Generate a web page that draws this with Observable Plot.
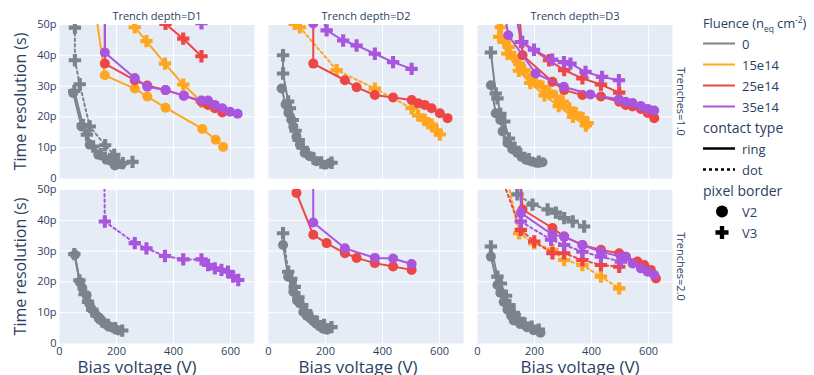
<!DOCTYPE html>
<html><head><meta charset="utf-8">
<script src="https://cdn.jsdelivr.net/npm/d3@7"></script>
<script src="https://cdn.jsdelivr.net/npm/@observablehq/plot@0.6"></script>
<style>
body{margin:0;background:#fff;font-family:"Open Sans",sans-serif;}
#wrap{position:relative;width:814px;height:375px;overflow:hidden;}
#legend{position:absolute;left:703px;top:12px;color:#2a3f5f;}
.row{height:21px;display:flex;align-items:center;white-space:nowrap;}
.ttl{font-size:14px;}
.ttl.small{font-size:13px;letter-spacing:-0.1px;}
.itm{font-size:13px;}
.itm span{margin-left:7px;}
sub,sup{font-size:8.5px;line-height:0;}
</style></head><body><div id="wrap"></div>
<script>
// ---- categories ----
const depths = ["D1", "D2", "D3"];
const trenches = ["1.0", "2.0"];
const fluences = ["0", "15e14", "25e14", "35e14"];
const contacts = ["ring", "dot"];
const borders = ["V2", "V3"];
const xTicks = [0, 200, 400, 600];
const yTicks = [0, 10, 20, 30, 40, 50];

// ---- series values: [bias voltage (V), time resolution (ps)] ----
// Trench depth D1, Trenches 1.0
const d1a_f0_v2_ring = [[48,27.8],[77,16.9],[106,11],[136,7.7],[165,6.1],[194,4.2],[218,4.6]];
const d1a_f0_v3_ring = [[52,28.4],[82,17.4],[96,14.2],[118,10.4],[145,7.9],[178,6.2],[205,5.2]];
const d1a_f0_v3_dot = [[54,49],[54,38.4],[71,30.6],[106,16.9],[160,10.8],[192,7.7],[222,5],[256,5.4]];
const d1a_f15_v2_ring = [[110,65],[159,33.5],[264,29.2],[308,26.6],[372,23],[501,16.1],[548,12.6],[574,10.2]];
const d1a_f15_v3_ring = [[215,58],[264,49.1],[305,44.6],[370,37.3],[434,30.5],[498,24.9]];
const d1a_f25_v2_ring = [[159,65],[159,37.3],[264,31.9],[308,30.2],[372,28.7],[436,26.9],[498,24.9],[521,23.9],[545,22.8],[571,21.4]];
const d1a_f25_v3_ring = [[372,50.2],[434,45.4],[498,39.7]];
const d1a_f35_v2_ring = [[159,75],[159,40.9],[264,32.6],[308,29.8],[372,28.7],[436,26.9],[498,25.3],[521,25.3],[545,23.9],[571,22.8],[598,21.7],[625,21]];
const d1a_f35_v3_ring = [[498,50.4]];
// Trench depth D2, Trenches 1.0
const d2a_f0_v2_ring = [[46,29.2],[60,24],[70,21.3],[81,19],[87,16.9],[98,13.6],[110,11],[127,8.3],[145,7.2],[168,5.6],[198,4.5],[215,5]];
const d2a_f0_v3_ring = [[51,40],[51,34.1],[69,25],[75,22.8],[85,19],[95,15.5],[106,12.5],[120,10],[138,8],[158,6.5],[185,5.2],[221,5.1]];
const d2a_f15_v3_dot = [[92,50.2],[110,49.1],[239,35.2],[373,29.2],[502,22.8],[525,20.5],[548,19],[560,18],[572,17.5],[590,15.5],[601,14.3]];
const d2a_f25_v2_ring = [[157,70],[157,37.3],[268,31.9],[309,29.6],[373,27.1],[437,26.3],[502,25.5],[525,24.4],[548,23.9],[572,22.8],[601,21.2],[628,19.6]];
const d2a_f35_v2_ring = [[157,70],[157,50.3]];
const d2a_f35_v3_ring = [[160,60],[204,48.1],[262,44.8],[309,43.2],[373,40.5],[437,37.8],[502,35.6]];
// Trench depth D3, Trenches 1.0
const d3a_f0_v2_ring = [[47,30.3],[64,21.2],[80,19],[88,15.3],[105,11.5],[122,9.5],[140,8.3],[155,7],[170,6.1],[190,5.5],[205,5.1],[228,5.3]];
const d3a_f0_v3_ring = [[47,40.9],[64,27.6],[70,26],[80,21],[94,18.5],[110,13],[130,10],[150,8],[180,6.3],[215,5.5]];
const d3a_f15_v3_ring = [[70,60],[82,49.1],[94,44.3],[111,42.7],[129,39.5],[146,37.3],[164,35.2],[188,33],[205,31.4],[228,29.8],[252,28.2],[275,26.6],[299,25],[322,22.8],[345,21.2],[369,19.6],[386,18]];
const d3a_f15_v3_ring_b = [[60,58],[76,46],[105,40.5],[145,35],[185,31],[235,27],[285,23.5],[335,20],[380,17.2]];
const d3a_f25_v2_ring = [[140,62],[158,40],[263,31.4],[304,28.7],[368,27.1],[433,26.6],[497,24.9],[520,23.9],[544,23.4],[573,22.6],[597,21.3],[620,19.6]];
const d3a_f25_v3_ring = [[120,62],[152,44.3],[251,38.4],[304,35.2],[368,32.5],[433,30.5],[497,27.9]];
const d3a_f35_v2_ring = [[85,60],[108,46.5],[204,34.1],[303,29.8],[396,27.3],[496,25.7],[520,24.9],[544,24.5],[573,23.5],[597,22.6],[620,22.1]];
const d3a_f35_v3_ring = [[120,58],[157,44.3],[198,41.8],[262,38.6],[303,37.8],[326,37.3],[379,34.6],[437,33],[496,31.9]];
// Trench depth D1, Trenches 2.0
const d1b_f0_v2_ring = [[54,28.8],[71,20],[80,18],[95,15.7],[104,13],[112,11.3],[124,9.8],[136,8.6],[148,7.4],[159,6.4],[170,5.8],[182,5.3],[194,4.8],[206,4.2]];
const d1b_f0_v3_ring = [[52,29],[70,20.5],[88,16],[100,13.5],[115,11],[130,9],[150,7.2],[170,6],[195,5],[220,4.2]];
const d1b_f35_v3_dot = [[155,70],[159,39.6],[264,32.6],[305,30.9],[370,28.4],[434,27.3],[498,27.3],[521,25.5],[545,24.4],[568,23.9],[591,23.3],[609,21.7],[627,20.6]];
// Trench depth D2, Trenches 2.0
const d2b_f0_v2_ring = [[51,32],[69,21.7],[87,16.8],[100,14],[110,13],[122,10.2],[134,9],[146,8.2],[157,7.2],[168,6.4],[180,5.5],[192,4.8],[205,4.5]];
const d2b_f0_v3_dot = [[51,35.8],[69,23.3],[80,21],[92,18.4],[105,15],[118,12.5],[132,10.5],[150,8.5],[170,7],[195,6],[221,5.3]];
const d2b_f25_v2_ring = [[98,48.9],[157,35.3],[204,32.6],[268,29.3],[309,27.8],[373,26.1],[437,25],[502,23.9]];
const d2b_f35_v2_ring = [[157,80],[157,39.3],[268,30.9],[373,27.8],[437,27.6],[502,25.8]];
// Trench depth D3, Trenches 2.0
const d3b_f0_v2_ring = [[47,28.2],[70,19],[80,16.5],[92,13.5],[105,11],[118,9],[127,7.5],[150,6.3],[174,5.3],[197,4.3],[221,3.5]];
const d3b_f0_v3_ring = [[47,31.5],[70,21.7],[82,19.5],[100,15.5],[112,12.5],[127,10],[145,8],[165,6.5],[190,5.5],[215,4.5]];
const d3b_f0_v3_dot = [[110,58],[140,48.4],[193,45.1],[246,43.5],[275,42.5],[304,40.7],[334,39.6],[374,38]];
const d3b_f15_v3_dot = [[100,55],[146,35.8],[199,32.5],[263,30.4],[304,27.1],[368,25.5],[433,21.7],[497,17.9]];
const d3b_f25_v2_ring = [[145,65],[158,43.5],[263,37.5],[304,34.7],[368,32],[433,30.4],[497,29.3],[520,28.2],[561,26.6],[585,25.5],[608,23.9],[626,21.1]];
const d3b_f25_v3_dot = [[80,55],[152,36.9],[199,33.1],[263,29.3],[304,29.3],[368,27.1],[433,25.5],[497,24.9]];
const d3b_f35_v2_ring = [[152,70],[152,42.4],[263,35.3],[304,34.7],[368,32],[433,29.8],[503,28.2],[520,28.2],[544,26],[573,24.4],[597,23.3],[620,22.2]];
const d3b_f35_v3_dot = [[152,39.6],[258,33.7],[304,32],[368,29.8],[433,28.2],[503,26.6]];

// ---- series index: depth, trenches, fluence, contact, border, values ----
const series = [
  ["D1","1.0","0","ring","V2",d1a_f0_v2_ring],
  ["D1","1.0","0","ring","V3",d1a_f0_v3_ring],
  ["D1","1.0","0","dot","V3",d1a_f0_v3_dot],
  ["D1","1.0","15e14","ring","V2",d1a_f15_v2_ring],
  ["D1","1.0","15e14","ring","V3",d1a_f15_v3_ring],
  ["D1","1.0","25e14","ring","V2",d1a_f25_v2_ring],
  ["D1","1.0","25e14","ring","V3",d1a_f25_v3_ring],
  ["D1","1.0","35e14","ring","V2",d1a_f35_v2_ring],
  ["D1","1.0","35e14","ring","V3",d1a_f35_v3_ring],
  ["D2","1.0","0","ring","V2",d2a_f0_v2_ring],
  ["D2","1.0","0","ring","V3",d2a_f0_v3_ring],
  ["D2","1.0","15e14","dot","V3",d2a_f15_v3_dot],
  ["D2","1.0","25e14","ring","V2",d2a_f25_v2_ring],
  ["D2","1.0","35e14","ring","V2",d2a_f35_v2_ring],
  ["D2","1.0","35e14","ring","V3",d2a_f35_v3_ring],
  ["D3","1.0","0","ring","V2",d3a_f0_v2_ring],
  ["D3","1.0","0","ring","V3",d3a_f0_v3_ring],
  ["D3","1.0","15e14","ring","V3",d3a_f15_v3_ring],
  ["D3","1.0","15e14","ring","V3",d3a_f15_v3_ring_b],
  ["D3","1.0","25e14","ring","V2",d3a_f25_v2_ring],
  ["D3","1.0","25e14","ring","V3",d3a_f25_v3_ring],
  ["D3","1.0","35e14","ring","V2",d3a_f35_v2_ring],
  ["D3","1.0","35e14","ring","V3",d3a_f35_v3_ring],
  ["D1","2.0","0","ring","V2",d1b_f0_v2_ring],
  ["D1","2.0","0","ring","V3",d1b_f0_v3_ring],
  ["D1","2.0","35e14","dot","V3",d1b_f35_v3_dot],
  ["D2","2.0","0","ring","V2",d2b_f0_v2_ring],
  ["D2","2.0","0","dot","V3",d2b_f0_v3_dot],
  ["D2","2.0","25e14","ring","V2",d2b_f25_v2_ring],
  ["D2","2.0","35e14","ring","V2",d2b_f35_v2_ring],
  ["D3","2.0","0","ring","V2",d3b_f0_v2_ring],
  ["D3","2.0","0","ring","V3",d3b_f0_v3_ring],
  ["D3","2.0","0","dot","V3",d3b_f0_v3_dot],
  ["D3","2.0","15e14","dot","V3",d3b_f15_v3_dot],
  ["D3","2.0","25e14","ring","V2",d3b_f25_v2_ring],
  ["D3","2.0","25e14","dot","V3",d3b_f25_v3_dot],
  ["D3","2.0","35e14","ring","V2",d3b_f35_v2_ring],
  ["D3","2.0","35e14","dot","V3",d3b_f35_v3_dot]
];

// ---- styles ----
const palette = ["#7b838c", "#ffa51f", "#ee4545", "#aa55dd"];
const colorOf = f => palette[fluences.indexOf(f)];
const ink = "#2a3f5f";

const ordered = series.map((s, i) => [s, i])
  .sort((a, b) => fluences.indexOf(a[0][2]) - fluences.indexOf(b[0][2]) || a[1] - b[1])
  .map(d => d[0]);

const seriesMarks = ordered.flatMap(([depth, trench, fluence, contact, border, pts]) => {
  const rows = pts.map(([V, t]) => ({V, t, depth, trench, fluence, contact, border}));
  const c = colorOf(fluence);
  return [
    Plot.line(rows, {x: "V", y: "t", fx: "depth", fy: "trench", stroke: c, strokeWidth: 2,
      strokeDasharray: contact === "dot" ? "2.5,3" : null, clip: true}),
    Plot.dot(rows, {x: "V", y: "t", fx: "depth", fy: "trench", fill: c,
      r: border === "V2" ? 5 : 5.2, symbol: border === "V2" ? "circle" : "cross", clip: true})
  ];
});

const cells = d3.cross(depths, trenches).map(([depth, trench]) => ({depth, trench}));
const xTitleShift = {D1: -20, D2: -8, D3: 5};

const chart = Plot.plot({
  width: 814, height: 375,
  marginLeft: 58, marginRight: 142, marginTop: 24, marginBottom: 32,
  style: {fontFamily: "'Open Sans', sans-serif", fontSize: "11px", color: ink, background: "white", overflow: "visible"},
  fx: {domain: depths, paddingInner: 0.069, paddingOuter: 0, axis: null},
  fy: {domain: trenches, paddingInner: 0.067, paddingOuter: 0, axis: null},
  x: {domain: [0, 684]},
  y: {domain: [0, 50]},
  marks: [
    Plot.frame({fill: "#e5ecf6", stroke: null}),
    Plot.gridX({ticks: xTicks.filter(d => d > 0), stroke: "white", strokeOpacity: 1, strokeWidth: 1}),
    Plot.gridY({ticks: yTicks.filter(d => d > 0), stroke: "white", strokeOpacity: 1, strokeWidth: 1}),
    Plot.axisX({ticks: xTicks, tickSize: 0, tickPadding: 4, label: null}),
    Plot.axisY({ticks: yTicks, tickSize: 0, tickPadding: 3, label: null,
      tickFormat: d => d === 0 ? "0" : d + "p"}),
    ...seriesMarks,
    Plot.text(cells.filter(c => c.trench === trenches[0]), {fx: "depth", fy: "trench",
      text: d => "Trench depth=" + d.depth, frameAnchor: "top", dy: -8,
      textAnchor: "middle", lineAnchor: "middle", fontSize: 11, fill: ink}),
    Plot.text(cells.filter(c => c.depth === depths[2]), {fx: "depth", fy: "trench",
      text: d => "Trenches=" + d.trench, frameAnchor: "right", dx: 8, rotate: 90,
      textAnchor: "middle", lineAnchor: "middle", fontSize: 11, fill: ink}),
    Plot.text(cells.filter(c => c.depth === depths[0]), {fx: "depth", fy: "trench",
      text: () => "Time resolution (s)", frameAnchor: "left", dx: -39, rotate: -90,
      textAnchor: "middle", lineAnchor: "middle", fontSize: 16, fill: ink}),
    ...depths.map(dp => Plot.text(cells.filter(c => c.trench === trenches[1] && c.depth === dp), {
      fx: "depth", fy: "trench", text: () => "Bias voltage (V)", frameAnchor: "bottom",
      dy: 24, dx: xTitleShift[dp], textAnchor: "middle", lineAnchor: "middle", fontSize: 17, fill: ink}))
  ]
});

const wrap = document.getElementById("wrap");
wrap.appendChild(chart);

// ---- legend ----
const legend = document.createElement("div");
legend.id = "legend";
const addTitle = (html, cls = "") => {
  const r = document.createElement("div");
  r.className = "row ttl " + cls; r.innerHTML = `<span>${html}</span>`; legend.appendChild(r);
};
const addItem = (swatch, label) => {
  const r = document.createElement("div");
  r.className = "row itm";
  r.innerHTML = `<svg width="32" height="21">${swatch}</svg><span>${label}</span>`;
  legend.appendChild(r);
};
addTitle("Fluence (n<sub>eq</sub> cm<sup>-2</sup>)", "small");
fluences.forEach(f => addItem(`<line x1="0" x2="32" y1="10.5" y2="10.5" stroke="${colorOf(f)}" stroke-width="2"/>`, f));
addTitle("contact type");
contacts.forEach(c => addItem(`<line x1="0" x2="32" y1="10.5" y2="10.5" stroke="#000" stroke-width="2.5" ${c === "dot" ? 'stroke-dasharray="3,3"' : ""}/>`, c));
addTitle("pixel border");
borders.forEach(b => {
  const shape = b === "V2"
    ? `<circle cx="19" cy="10.5" r="6" fill="#000"/>`
    : `<path transform="translate(19,10.5)" d="${d3.symbol(d3.symbolCross, 95)()}" fill="#000"/>`;
  addItem(shape, b);
});
wrap.appendChild(legend);
</script></body></html>
